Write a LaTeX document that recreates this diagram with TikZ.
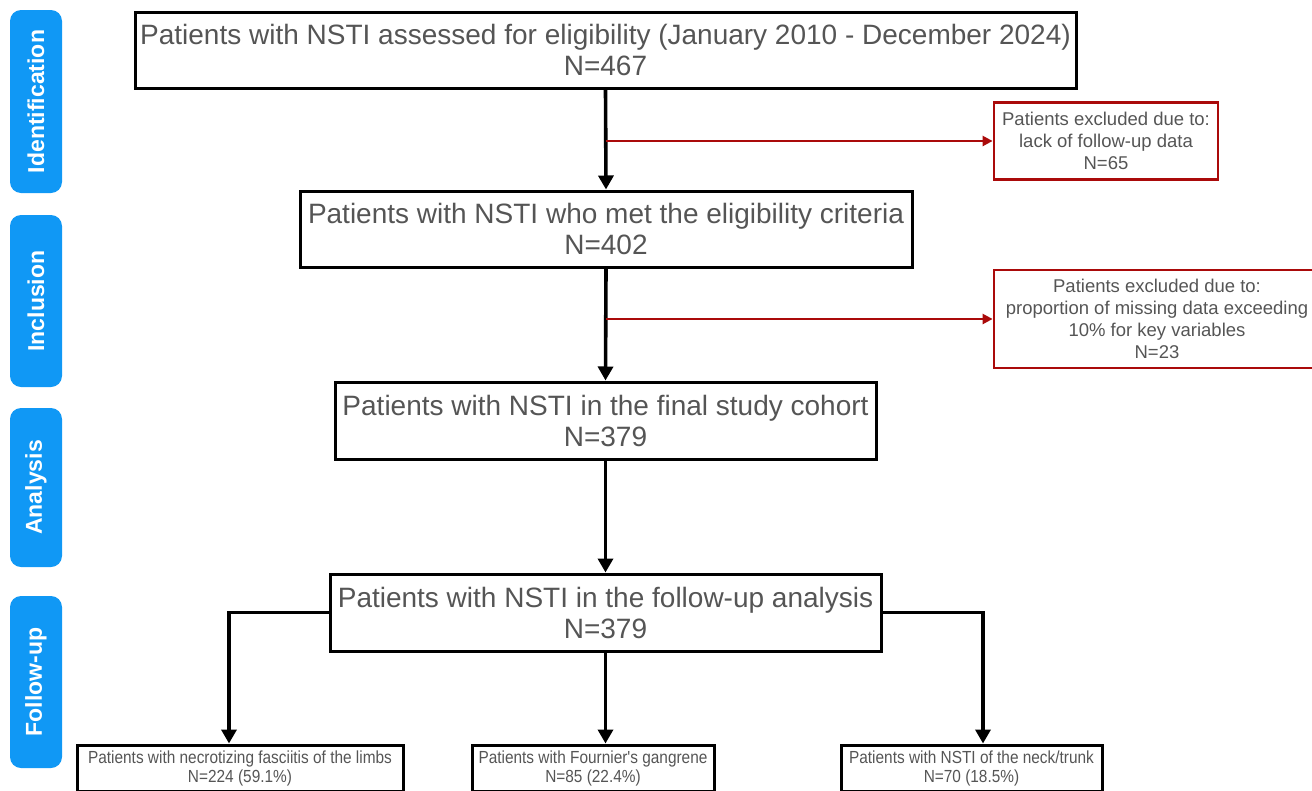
\documentclass[tikz,border=0pt]{standalone}
\usepackage{fontspec}
\setmainfont{Liberation Sans}
\newfontfamily\narrowfont[FakeStretch=0.88]{Liberation Sans}
\usetikzlibrary{arrows.meta}
\definecolor{phaseblue}{RGB}{16,152,245}
\definecolor{exclred}{RGB}{170,10,10}
\definecolor{textgrey}{RGB}{85,85,85}
\begin{document}
\begin{tikzpicture}[
				x=1pt, y=-1pt,
				phase/.style={rounded corners=11pt, fill=phaseblue, text=white, rotate=90, inner sep=0pt, minimum height=52pt, minimum width=#1, font=\fontsize{23}{23}\selectfont\bfseries},
				stage/.style={draw=black, line width=3pt, text=textgrey, align=center, inner sep=0pt, minimum height=76pt, minimum width=#1, font=\fontsize{28}{31}\selectfont},
				excl/.style={draw=exclred, line width=2.8pt, text=textgrey, align=center, inner sep=0pt, minimum width=#1, font=\fontsize{18.5}{22}\selectfont},
				sub/.style={draw=black, line width=3pt, text=textgrey, align=center, inner sep=0pt, minimum height=46pt, minimum width=#1, font=\narrowfont\fontsize{17.5}{19}\selectfont},
				arr/.style={line width=3.6pt, -{Triangle[length=14pt,width=15pt]}},
				redarr/.style={draw=exclred, line width=2.4pt, -{Triangle[length=10pt,width=10pt]}}
				]
			\useasboundingbox (0,0) rectangle (1312,790);
			% phases
			\node [phase=183] (ident) at (36,101.5) {Identification};
			\node [phase=172] (incl) at (36,301) {Inclusion};
			\node [phase=159] (anal) at (36,487.5) {Analysis};
			\node [phase=172] (fup) at (36,682) {Follow-up};
			% main flow
			\node [stage=941] (assessed) at (605.5,50) {Patients with NSTI assessed for eligibility (January 2010 - December 2024)\\N=467};
			\node [stage=612] (eligible) at (606,229) {Patients with NSTI who met the eligibility criteria\\N=402};
			\node [stage=541, minimum height=77pt] (cohort) at (605.5,420.5) {Patients with NSTI in the final study cohort\\N=379};
			\node [stage=551, minimum height=77pt] (follow) at (605.5,612.5) {Patients with NSTI in the follow-up analysis\\N=379};
			% exclusions
			\node [excl=224, minimum height=77pt] (lackdata) at (1106,141) {Patients excluded due to:\\lack of follow-up data\\N=65};
			\node [excl=326, minimum height=98pt] (missing) at (1157,319) {Patients excluded due to:\\proportion of missing data exceeding\\10\% for key variables\\N=23};
			% subgroups
			\node [sub=326] (limbs) at (240,768) {Patients with necrotizing fasciitis of the limbs\\N=224 (59.1\%)};
			\node [sub=242] (fournier) at (593,768) {Patients with Fournier's gangrene\\N=85 (22.4\%)};
			\node [sub=261] (trunk) at (971.5,768) {Patients with NSTI of the neck/trunk\\N=70 (18.5\%)};
			% connectors
			\draw [arr] (assessed.south) -- (eligible.north);
			\draw [arr] (eligible.south) -- (cohort.north);
			\draw [arr] (cohort.south) -- (follow.north);
			\draw [redarr] (assessed.south |- lackdata.west) -- (lackdata.west);
			\draw [redarr] (eligible.south |- missing.west) -- (missing.west);
			\draw [arr] (follow.west) -| ([xshift=-11pt]limbs.north);
			\draw [arr] (follow.south) -- (follow.south |- fournier.north);
			\draw [arr] (follow.east) -| ([xshift=11.5pt]trunk.north);
\end{tikzpicture}
\end{document}
